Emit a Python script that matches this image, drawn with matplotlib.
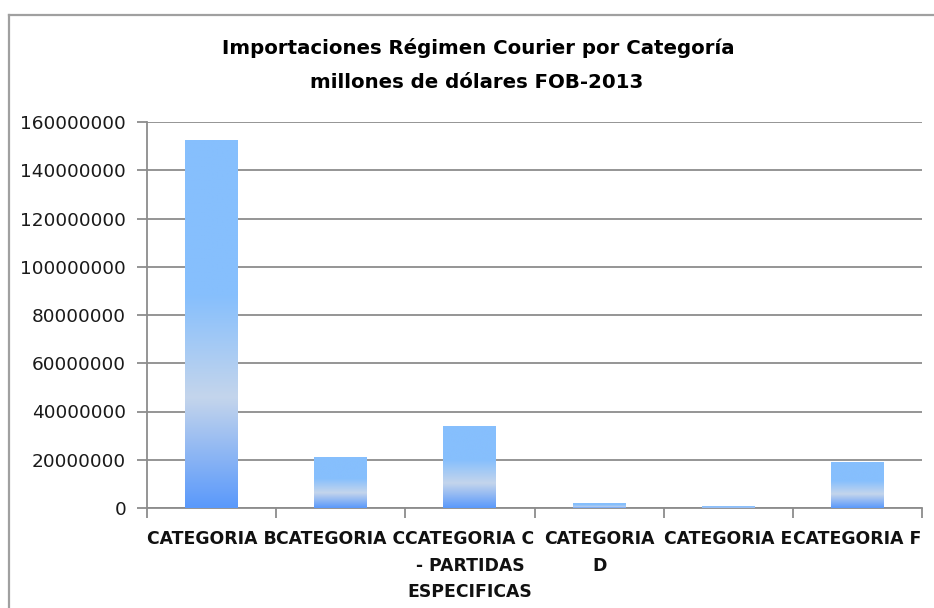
import numpy as np
import matplotlib
matplotlib.use("Agg")
import matplotlib.pyplot as plt
from matplotlib.colors import LinearSegmentedColormap
from matplotlib.lines import Line2D

categories = ["CATEGORIA B", "CATEGORIA C", "CATEGORIA C\n- PARTIDAS\nESPECIFICAS",
              "CATEGORIA\nD", "CATEGORIA E", "CATEGORIA F"]
values = [152500000, 21000000, 34000000, 1900000, 800000, 19100000]
yticks = [0, 20000000, 40000000, 60000000, 80000000, 100000000, 120000000, 140000000, 160000000]
title1 = "Importaciones Régimen Courier por Categoría"
title2 = "millones de dólares FOB-2013"

W, H = 934, 608
fig = plt.figure(figsize=(W / 100, H / 100), dpi=100)
ax = fig.add_axes([147 / W, 1 - 508 / H, (922 - 147) / W, (508 - 122) / H])

grid_c = "#8c8c8c"
cmap = LinearSegmentedColormap.from_list(
    "xl", [(0.0, "#5a99fb"), (0.30, "#c4d5ec"), (0.58, "#86bffd"), (1.0, "#86bffd")])
grad = np.linspace(0, 1, 256).reshape(-1, 1)

x = np.arange(len(categories))
bw = 0.41
bars = ax.bar(x, values, width=bw, color="none", edgecolor="none", zorder=3)
for b in bars:
    x0, y0 = b.get_x(), b.get_y()
    w, h = b.get_width(), b.get_height()
    im = ax.imshow(grad, cmap=cmap, origin="lower", aspect="auto",
                   extent=(x0, x0 + w, y0, y0 + h), zorder=3, interpolation="bilinear")
    im.set_clip_path(b)

ax.set_xlim(-0.5, len(categories) - 0.5)
ax.set_ylim(0, 160000000)
ax.set_yticks(yticks)
ax.set_yticklabels([str(v) for v in yticks])
ax.set_xticks(x)
ax.set_xticklabels(categories, fontsize=12.4, fontweight="bold", family="DejaVu Sans",
                   linespacing=1.6, color="#111111")
ax.set_xticks(np.arange(-0.5, len(categories)), minor=True)
ax.tick_params(axis="x", which="major", length=0, pad=16)
ax.tick_params(axis="x", which="minor", length=7, width=1.3, color=grid_c, direction="out")
ax.tick_params(axis="y", length=7, width=1.3, color=grid_c, pad=8, labelsize=13.3,
               labelcolor="#1a1a1a")

ax.yaxis.grid(True, color=grid_c, linewidth=1.3, zorder=1)
ax.set_axisbelow(True)
for s in ["top", "right"]:
    ax.spines[s].set_visible(False)
for s in ["left", "bottom"]:
    ax.spines[s].set_color(grid_c)
    ax.spines[s].set_linewidth(1.3)

fig.text(478 / W, 1 - 48 / H, title1, ha="center", va="center", fontsize=14.2,
         fontweight="bold", color="#000000")
fig.text(477 / W, 1 - 82 / H, title2, ha="center", va="center", fontsize=14.2,
         fontweight="bold", color="#000000")

# outer chart-area border (only left and top visible in the crop)
fig.add_artist(Line2D([9 / W, 9 / W], [0, 1 - 15 / H], transform=fig.transFigure,
                      color="#a0a0a0", linewidth=1.6))
fig.add_artist(Line2D([9 / W, 1], [1 - 15 / H, 1 - 15 / H], transform=fig.transFigure,
                      color="#a0a0a0", linewidth=1.6))

fig.savefig("out.png", dpi=100, facecolor="white")
